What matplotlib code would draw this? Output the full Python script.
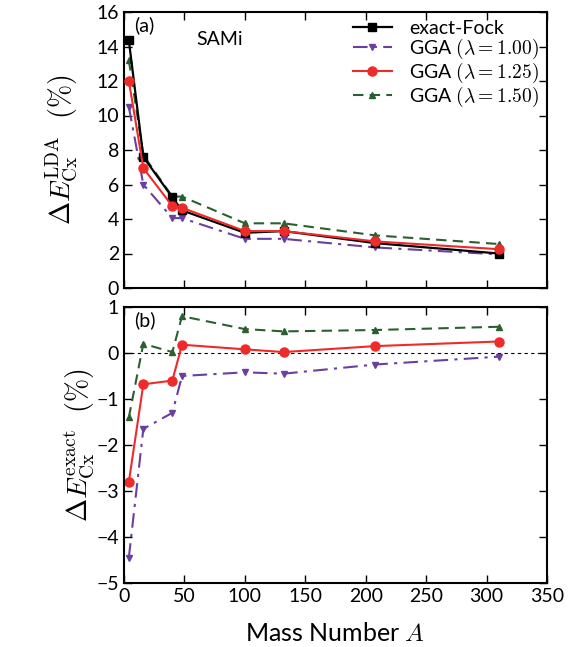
import matplotlib
matplotlib.use('Agg')
import matplotlib.pyplot as plt
import numpy as np

plt.rcParams['font.family'] = ['Lato', 'DejaVu Sans']
plt.rcParams['mathtext.fontset'] = 'cm'
plt.rcParams['font.size'] = 13

# mass numbers of the nuclei
mass = [4, 16, 40, 48, 100, 132, 208, 310]

# panel (a): deviation from LDA (%)
fock_lda = [14.35, 7.6, 5.25, 4.5, 3.2, 3.3, 2.6, 2.0]
gga100_lda = [10.5, 6.0, 4.05, 4.05, 2.85, 2.85, 2.35, 1.95]
gga125_lda = [12.0, 6.95, 4.75, 4.65, 3.3, 3.3, 2.7, 2.25]
gga150_lda = [13.2, 7.7, 5.3, 5.3, 3.75, 3.75, 3.05, 2.55]

# panel (b): deviation from exact (%)
gga100_ex = [-4.45, -1.65, -1.3, -0.5, -0.42, -0.45, -0.25, -0.08]
gga125_ex = [-2.8, -0.68, -0.6, 0.18, 0.08, 0.02, 0.15, 0.25]
gga150_ex = [-1.4, 0.2, 0.02, 0.8, 0.52, 0.47, 0.5, 0.57]

purple = '#6a3fa0'
red = '#ee2a2a'
green = '#2a6030'

fig = plt.figure(figsize=(5.75, 6.47), dpi=100)
ax1 = fig.add_axes([124/575, 1-288/647, 423/575, 276/647])
ax2 = fig.add_axes([124/575, 1-583/647, 423/575, 276/647])

ax1.plot(mass, fock_lda, '-s', color='black', lw=1.6, ms=6, label='exact-Fock', zorder=3)
ax1.plot(mass, gga100_lda, '-.v', color=purple, lw=1.5, ms=5, label=r'GGA $(\lambda = 1.00)$',
         dashes=(7, 3, 1.5, 3))
ax1.plot(mass, gga125_lda, '-o', color=red, lw=1.5, ms=6.5, label=r'GGA $(\lambda = 1.25)$', zorder=4)
ax1.plot(mass, gga150_lda, '--^', color=green, lw=1.5, ms=5, label=r'GGA $(\lambda = 1.50)$',
         dashes=(5, 3))

ax2.axhline(0, color='black', ls='--', lw=0.8, dashes=(3, 3))
ax2.plot(mass, gga100_ex, '-.v', color=purple, lw=1.5, ms=5, dashes=(7, 3, 1.5, 3))
ax2.plot(mass, gga125_ex, '-o', color=red, lw=1.5, ms=6.5)
ax2.plot(mass, gga150_ex, '--^', color=green, lw=1.5, ms=5, dashes=(5, 3))

ax1.set_xlim(0, 350)
ax1.set_ylim(0, 16)
ax1.set_yticks(range(0, 17, 2))
ax1.set_xticks(range(0, 351, 50))
ax1.set_xticklabels([])
ax2.set_xlim(0, 350)
ax2.set_ylim(-5, 1)
ax2.set_yticks(range(-5, 2))
ax2.set_xticks(range(0, 351, 50))

for ax in (ax1, ax2):
    ax.tick_params(direction='in', top=True, right=True, length=6, width=1, labelsize=14)
    for s in ax.spines.values():
        s.set_linewidth(1.5)

ax1.set_ylabel(r'$\Delta E_{\rm Cx}^{\rm LDA}\ \ (\%)$', fontsize=20, labelpad=12)
ax2.set_ylabel(r'$\Delta E_{\rm Cx}^{\rm exact}\ \ (\%)$', fontsize=20, labelpad=0)
ax2.set_xlabel(r'Mass Number $A$', fontsize=18, labelpad=12)

ax1.text(0.025, 0.985, '(a)', transform=ax1.transAxes, fontsize=14, va='top')
ax1.text(0.17, 0.93, 'SAMi', transform=ax1.transAxes, fontsize=14, va='top')
ax2.text(0.025, 0.985, '(b)', transform=ax2.transAxes, fontsize=14, va='top')

ax1.legend(loc='upper right', frameon=False, fontsize=14, handlelength=2.0,
           borderaxespad=0.0, labelspacing=0.0, handletextpad=0.9)

fig.savefig('out.png', dpi=100)
